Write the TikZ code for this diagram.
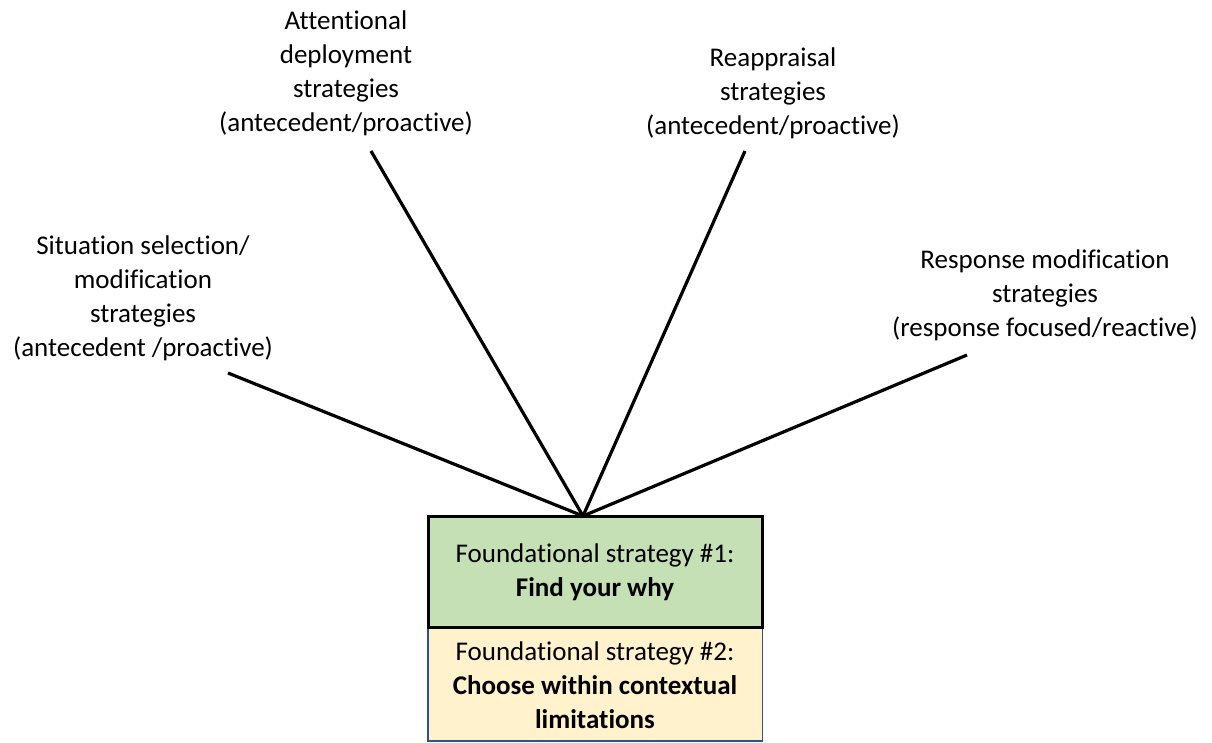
\documentclass[tikz,border=0pt]{standalone}
\usepackage{fontspec}
\setmainfont{Carlito}[Ligatures=NoCommon]
\definecolor{whygreen}{HTML}{C5E0B4}
\definecolor{choiceyellow}{HTML}{FFF2CC}
\definecolor{choiceedge}{HTML}{2F528F}
\begin{document}
\begin{tikzpicture}[x=1pt,y=-1pt,
  label/.style={align=center,inner sep=0pt,font=\fontsize{27}{34}\selectfont},
  spoke/.style={line width=3.2pt},
  boxtext/.style={align=center,inner sep=0pt,font=\fontsize{27}{34}\selectfont},
]
\useasboundingbox (0,0) rectangle (1212,742);

% strategy labels
\node[label] (sit) at (143,298) {Situation selection/\\modification\\strategies\\(antecedent /proactive)};
\node[label] (att) at (346,73.5) {Attentional\\deployment\\strategies\\(antecedent/proactive)};
\node[label] (rea) at (773,93.5) {Reappraisal\\strategies\\(antecedent/proactive)};
\node[label] (res) at (1045,295) {Response modification\\strategies\\(response focused/reactive)};

% foundational boxes
\path[fill=choiceyellow,draw=choiceedge,line width=1.2pt] (428,627) rectangle (762.5,741);
\path[fill=whygreen,draw=black,line width=3pt] (428.5,516.5) rectangle (762,627);
\node[boxtext] (fs1) at (595,572) {Foundational strategy \#1:\\\textbf{Find your why}};
\node[boxtext] (fs2) at (595,685.5) {Foundational strategy \#2:\\\textbf{Choose within contextual}\\\textbf{limitations}};

% spokes from the hub to each label
\coordinate (hub) at (583,516);
\coordinate (sitend) at (228,373);
\coordinate (attend) at (371,151);
\coordinate (reaend) at (745,151);
\coordinate (resend) at (967,355);
\draw[spoke] (hub) -- (sitend);
\draw[spoke] (hub) -- (attend);
\draw[spoke] (hub) -- (reaend);
\draw[spoke] (hub) -- (resend);
\end{tikzpicture}
\end{document}
